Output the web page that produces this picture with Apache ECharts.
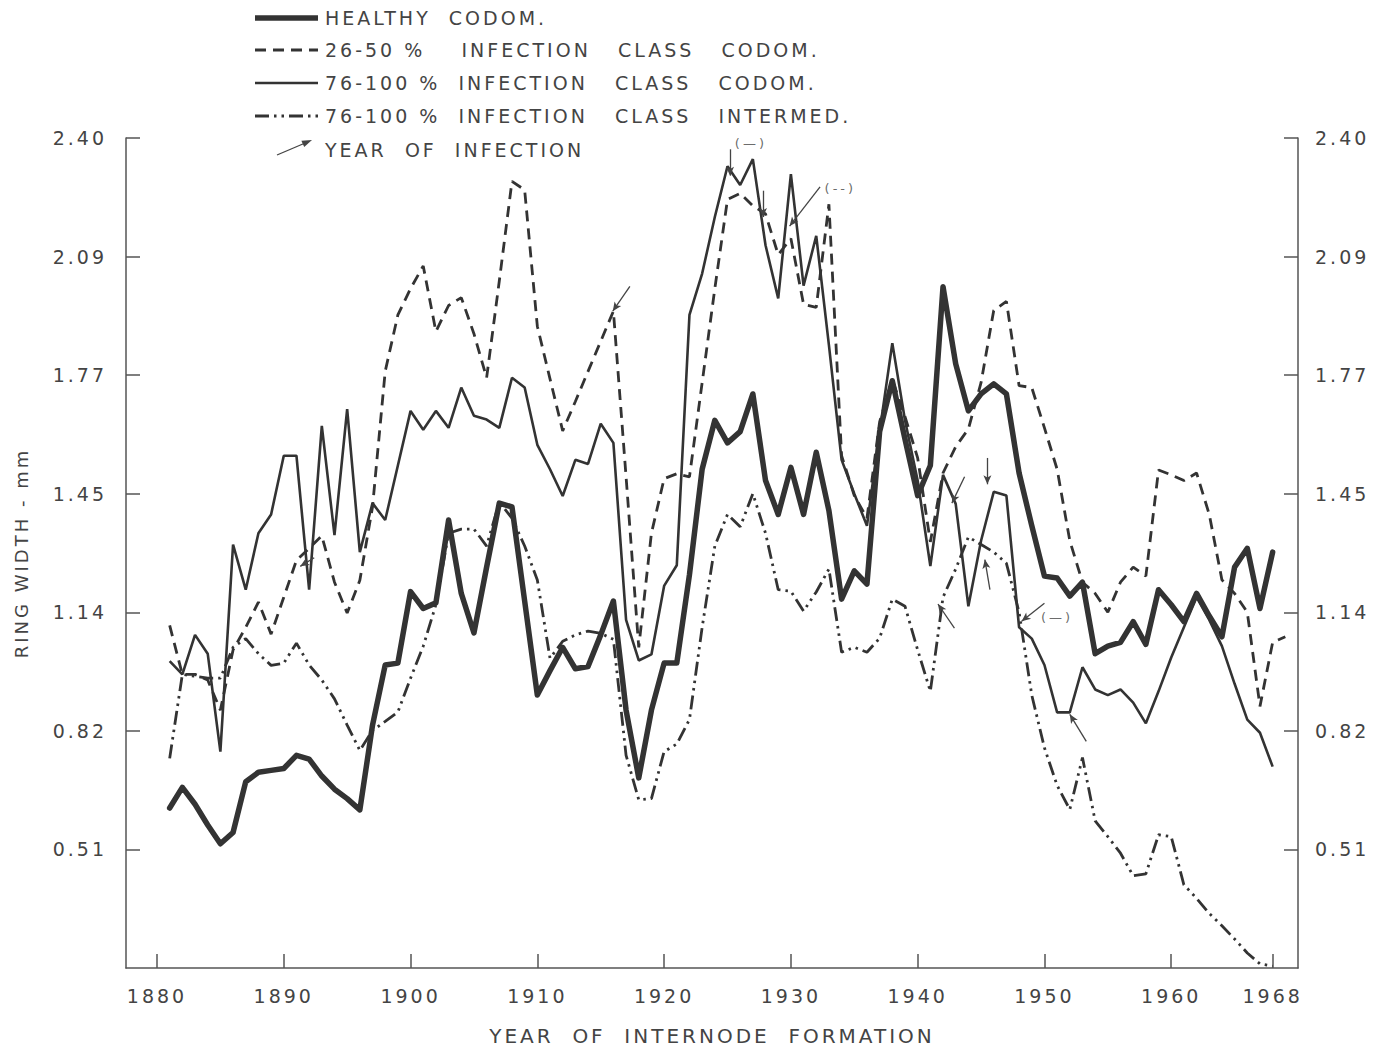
<!DOCTYPE html>
<html>
<head>
<meta charset="utf-8">
<script src="https://cdn.jsdelivr.net/npm/echarts@6.0.0/dist/echarts.min.js"></script>
<style>
html,body{margin:0;padding:0;background:#ffffff;}
#main{width:1388px;height:1052px;}
#main text{letter-spacing:3px;}
</style>
</head>
<body>
<div id="main"></div>
<script>
// ---------------- data (ring width, mm) ----------------
const firstYear = 1881;

const healthyCodom = [
  0.62, 0.675, 0.63, 0.575, 0.525, 0.555, 0.69, 0.715, 0.72, 0.725,      // 1881-1890
  0.76, 0.75, 0.705, 0.67, 0.645, 0.615, 0.84, 1.00, 1.005, 1.195,       // 1891-1900
  1.15, 1.165, 1.385, 1.19, 1.085, 1.26, 1.43, 1.42, 1.17, 0.92,         // 1901-1910
  0.985, 1.047, 0.99, 0.996, 1.08, 1.17, 0.88, 0.70, 0.88, 1.005,        // 1911-1920
  1.005, 1.24, 1.52, 1.65, 1.59, 1.62, 1.72, 1.49, 1.40, 1.525,          // 1921-1930
  1.40, 1.565, 1.41, 1.175, 1.25, 1.215, 1.62, 1.755, 1.60, 1.45,        // 1931-1940
  1.53, 2.005, 1.80, 1.675, 1.72, 1.747, 1.72, 1.51, 1.37, 1.236,        // 1941-1950
  1.231, 1.183, 1.22, 1.03, 1.05, 1.06, 1.115, 1.055, 1.20, 1.16,        // 1951-1960
  1.115, 1.19, 1.13, 1.075, 1.26, 1.31, 1.15, 1.30                       // 1961-1968
];

const infection2650Codom = [
  1.105, 0.975, 0.975, 0.96, 0.88, 1.04, 1.10, 1.167, 1.082, 1.18,       // 1881-1890
  1.278, 1.31, 1.343, 1.22, 1.138, 1.225, 1.42, 1.78, 1.93, 2.00,        // 1891-1900
  2.06, 1.886, 1.955, 1.976, 1.88, 1.763, 2.02, 2.285, 2.262, 1.90,      // 1901-1910
  1.76, 1.622, 1.70, 1.78, 1.86, 1.94, 1.50, 1.047, 1.35, 1.495,         // 1911-1920
  1.508, 1.50, 1.75, 2.00, 2.237, 2.253, 2.22, 2.198, 2.09, 2.133,       // 1921-1930
  1.958, 1.95, 2.224, 1.556, 1.45, 1.39, 1.646, 1.758, 1.66, 1.55,       // 1931-1940
  1.327, 1.51, 1.58, 1.627, 1.75, 1.942, 1.966, 1.742, 1.737, 1.63,      // 1941-1950
  1.52, 1.33, 1.22, 1.19, 1.14, 1.22, 1.26, 1.236, 1.518, 1.505,         // 1951-1960
  1.49, 1.51, 1.40, 1.226, 1.19, 1.14, 0.89, 1.06, 1.075                 // 1961-1969
];

const infection76100Codom = [
  1.01, 0.975, 1.08, 1.03, 0.77, 1.32, 1.20, 1.35, 1.40, 1.556,          // 1881-1890
  1.556, 1.20, 1.635, 1.345, 1.68, 1.30, 1.43, 1.385, 1.53, 1.675,       // 1891-1900
  1.625, 1.675, 1.63, 1.737, 1.662, 1.652, 1.63, 1.763, 1.737, 1.585,    // 1901-1910
  1.52, 1.449, 1.545, 1.534, 1.641, 1.59, 1.12, 1.012, 1.028, 1.21,      // 1911-1920
  1.265, 1.93, 2.04, 2.19, 2.325, 2.275, 2.344, 2.115, 1.974, 2.304,     // 1921-1930
  2.008, 2.14, 1.85, 1.545, 1.455, 1.37, 1.62, 1.855, 1.65, 1.49,        // 1931-1940
  1.263, 1.505, 1.428, 1.156, 1.33, 1.46, 1.45, 1.10, 1.07, 1.00,        // 1941-1950
  0.874, 0.874, 0.994, 0.935, 0.92, 0.935, 0.90, 0.845, 0.93, 1.02,      // 1951-1960
  1.10, 1.18, 1.12, 1.05, 0.95, 0.855, 0.82, 0.73                        // 1961-1968
];

const infection76100Intermed = [
  0.752, 0.975, 0.97, 0.965, 0.965, 1.047, 1.07, 1.03, 0.999, 1.005,     // 1881-1890
  1.058, 1.00, 0.96, 0.91, 0.84, 0.773, 0.826, 0.85, 0.875, 0.965,       // 1891-1900
  1.05, 1.16, 1.35, 1.361, 1.361, 1.316, 1.433, 1.39, 1.316, 1.226,      // 1901-1910
  1.018, 1.063, 1.08, 1.09, 1.084, 1.068, 0.76, 0.642, 0.645, 0.77,      // 1911-1920
  0.79, 0.855, 1.10, 1.316, 1.40, 1.367, 1.455, 1.35, 1.20, 1.196,       // 1921-1930
  1.143, 1.194, 1.255, 1.034, 1.047, 1.034, 1.071, 1.175, 1.156, 1.04,   // 1931-1940
  0.93, 1.18, 1.255, 1.34, 1.32, 1.30, 1.27, 1.14, 0.92, 0.78,           // 1941-1950
  0.68, 0.616, 0.754, 0.586, 0.544, 0.50, 0.44, 0.445, 0.549, 0.544,     // 1951-1960
  0.416, 0.38, 0.34, 0.307, 0.272, 0.235, 0.206, 0.20                    // 1961-1968
];

// axis ticks
const xTickValues = [1880, 1890, 1900, 1910, 1920, 1930, 1940, 1950, 1960, 1968];
const yTickValues = [0.51, 0.825, 1.14, 1.455, 1.77, 2.085, 2.40];
const yTickLabels = ['0.51', '0.82', '1.14', '1.45', '1.77', '2.09', '2.40'];

// "year of infection" arrows: [fromYear, fromValue, toYear, toValue]
const infectionArrows = [
  [1917.3, 2.006, 1915.95, 1.94],
  [1925.2, 2.37, 1925.2, 2.30],
  [1927.8, 2.26, 1927.8, 2.19],
  [1932.3, 2.27, 1929.9, 2.166],
  [1943.7, 1.50, 1942.7, 1.43],
  [1945.5, 1.55, 1945.5, 1.48],
  [1945.7, 1.20, 1945.3, 1.28],
  [1942.9, 1.098, 1941.6, 1.162],
  [1950.0, 1.164, 1948.2, 1.116],
  [1953.3, 0.797, 1952.0, 0.869],
  [1892.4, 1.285, 1891.3, 1.262]
];
// small class labels next to arrows: [year, value, text]
const arrowLabels = [
  [1926.85, 2.385, '(—)'],
  [1933.9, 2.267, '(--)'],
  [1951.0, 1.127, '(—)']
];

// ---------------- chart ----------------
const INK = '#333333';
const TXT = '#444444';
const FONT = 'DejaVu Sans';

function pairs(vals) { return vals.map((v, i) => [firstYear + i, v]); }

const chart = echarts.init(document.getElementById('main'), null, { renderer: 'svg' });

const axisCommon = {
  type: 'value',
  splitLine: { show: false },
  axisLine: { show: true, onZero: false, lineStyle: { color: '#555', width: 1.5 } },
  axisTick: { show: true, inside: true, length: 14, lineStyle: { color: '#555', width: 1.5 } }
};

const yLabelFormatter = v => {
  const i = yTickValues.findIndex(t => Math.abs(t - v) < 1e-6);
  return i >= 0 ? yTickLabels[i] : '';
};

const option = {
  backgroundColor: '#ffffff',
  animation: false,
  textStyle: { fontFamily: FONT },
  grid: { left: 126, right: 90, top: 138, bottom: 84, containLabel: false },
  xAxis: Object.assign({}, axisCommon, {
    min: 1877.555, max: 1970,
    axisTick: Object.assign({}, axisCommon.axisTick, { customValues: xTickValues }),
    axisLabel: { customValues: xTickValues, margin: 18, fontSize: 19, color: TXT, fontFamily: FONT,
      formatter: v => String(v) },
    name: 'YEAR  OF  INTERNODE  FORMATION',
    nameLocation: 'middle', nameGap: 58,
    nameTextStyle: { fontSize: 20, color: TXT, fontFamily: FONT }
  }),
  yAxis: [
    Object.assign({}, axisCommon, {
      position: 'left', min: 0.195, max: 2.40,
      axisTick: Object.assign({}, axisCommon.axisTick, { customValues: yTickValues }),
      axisLabel: { customValues: yTickValues, margin: 19, fontSize: 19, color: TXT, fontFamily: FONT,
        formatter: yLabelFormatter },
      name: 'RING WIDTH - mm',
      nameLocation: 'middle', nameRotate: 90, nameGap: 96,
      nameTextStyle: { fontSize: 18, color: TXT, fontFamily: FONT }
    }),
    Object.assign({}, axisCommon, {
      position: 'right', min: 0.195, max: 2.40,
      axisTick: Object.assign({}, axisCommon.axisTick, { customValues: yTickValues }),
      axisLabel: { customValues: yTickValues, margin: 17, fontSize: 19, color: TXT, fontFamily: FONT,
        formatter: yLabelFormatter }
    })
  ],
  series: [
    {
      name: 'HEALTHY CODOM.', type: 'line', data: pairs(healthyCodom),
      showSymbol: false, symbol: 'none', silent: true, z: 5,
      lineStyle: { color: INK, width: 5.5, join: 'round', cap: 'round' },
      markLine: {
        silent: true, symbol: ['none', 'arrow'], symbolSize: [6, 9],
        label: { show: false },
        lineStyle: { color: '#444', width: 1.3, type: 'solid' },
        emphasis: { disabled: true },
        data: infectionArrows.map(a => [{ coord: [a[0], a[1]] }, { coord: [a[2], a[3]] }])
      }
    },
    {
      name: '26-50 % INFECTION CLASS CODOM.', type: 'line', data: pairs(infection2650Codom),
      showSymbol: false, symbol: 'none', silent: true, z: 4,
      lineStyle: { color: INK, width: 2.8, type: [11, 7] }
    },
    {
      name: '76-100 % INFECTION CLASS CODOM.', type: 'line', data: pairs(infection76100Codom),
      showSymbol: false, symbol: 'none', silent: true, z: 4,
      lineStyle: { color: INK, width: 2.6 }
    },
    {
      name: '76-100 % INFECTION CLASS INTERMED.', type: 'line', data: pairs(infection76100Intermed),
      showSymbol: false, symbol: 'none', silent: true, z: 4,
      lineStyle: { color: INK, width: 2.8, type: [14, 5, 2.5, 5, 2.5, 5] }
    },
    {
      name: 'arrow labels', type: 'scatter', data: arrowLabels, symbolSize: 0, silent: true,
      label: { show: true, position: 'inside', formatter: p => p.value[2], fontSize: 13, color: TXT, fontFamily: FONT }
    }
  ],
  graphic: [
    // legend
    { type: 'line', shape: { x1: 255, y1: 18, x2: 318, y2: 18 }, style: { stroke: INK, lineWidth: 5.5 } },
    { type: 'line', shape: { x1: 255, y1: 50, x2: 318, y2: 50 }, style: { stroke: INK, lineWidth: 2.8, lineDash: [11, 7] } },
    { type: 'line', shape: { x1: 255, y1: 83, x2: 318, y2: 83 }, style: { stroke: INK, lineWidth: 2.6 } },
    { type: 'line', shape: { x1: 255, y1: 116, x2: 318, y2: 116 }, style: { stroke: INK, lineWidth: 2.8, lineDash: [14, 5, 2.5, 5, 2.5, 5] } },
    { type: 'line', shape: { x1: 277, y1: 155, x2: 304, y2: 143.5 }, style: { stroke: '#444', lineWidth: 1.3 } },
    { type: 'polygon', shape: { points: [[312, 140], [304.2, 147.1], [301.4, 140.7]] }, style: { fill: '#444' } },
    { type: 'text', x: 325, y: 18, style: { text: 'HEALTHY  CODOM.', fontSize: 19, fontFamily: FONT, fill: TXT, verticalAlign: 'middle' } },
    { type: 'text', x: 325, y: 50, style: { text: '26-50 %    INFECTION   CLASS   CODOM.', fontSize: 19, fontFamily: FONT, fill: TXT, verticalAlign: 'middle' } },
    { type: 'text', x: 325, y: 83, style: { text: '76-100 %  INFECTION   CLASS   CODOM.', fontSize: 19, fontFamily: FONT, fill: TXT, verticalAlign: 'middle' } },
    { type: 'text', x: 325, y: 116, style: { text: '76-100 %  INFECTION   CLASS   INTERMED.', fontSize: 19, fontFamily: FONT, fill: TXT, verticalAlign: 'middle' } },
    { type: 'text', x: 325, y: 150, style: { text: 'YEAR  OF  INFECTION', fontSize: 19, fontFamily: FONT, fill: TXT, verticalAlign: 'middle' } }
  ]
};

chart.setOption(option);
</script>
</body>
</html>
